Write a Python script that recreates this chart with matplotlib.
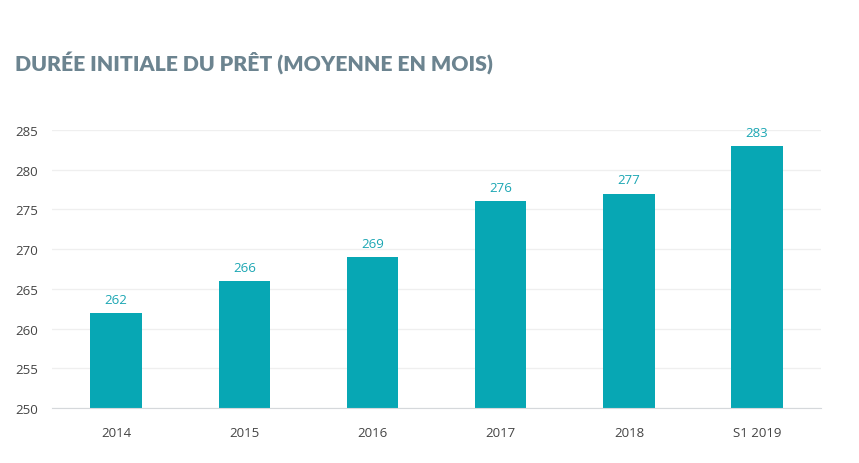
import matplotlib
matplotlib.use("Agg")
import matplotlib.pyplot as plt

categories = ["2014", "2015", "2016", "2017", "2018", "S1 2019"]
values = [262, 266, 269, 276, 277, 283]
yticks = [250, 255, 260, 265, 270, 275, 280, 285]

TEAL = "#07a7b4"
plt.rcParams["font.family"] = ["Open Sans", "DejaVu Sans"]

fig = plt.figure(figsize=(8.59, 4.64), dpi=100)
ax = fig.add_axes([0.0605, 0.1185, 0.8955, 0.5992])

x = range(len(categories))
ax.bar(x, [v - 250 for v in values], bottom=250, width=0.4, color=TEAL, zorder=3)
for i, v in enumerate(values):
    ax.text(i, v + 0.9, str(v), ha="center", va="bottom", fontsize=9.5, color="#1ba6b3")

ax.set_xlim(-0.5, len(categories) - 0.5)
ax.set_ylim(250, 285)
ax.set_yticks(yticks)
ax.set_xticks(list(x))
ax.set_xticklabels(categories)
ax.tick_params(axis="both", length=0, labelsize=9.5, colors="#444444")
ax.tick_params(axis="x", pad=13)
ax.tick_params(axis="y", pad=10)
ax.grid(axis="y", color="#efefef", linewidth=0.9, zorder=0)
for s in ("top", "right", "left"):
    ax.spines[s].set_visible(False)
ax.spines["bottom"].set_color("#d5d8db")
ax.spines["bottom"].set_zorder(4)

fig.text(0.018, 0.866, "DURÉE INITIALE DU PRÊT (MOYENNE EN MOIS)", fontsize=15.3,
         fontweight="heavy", color="#6c8490", family=["Lato", "DejaVu Sans"], va="center")

fig.savefig("out.png", dpi=100)
